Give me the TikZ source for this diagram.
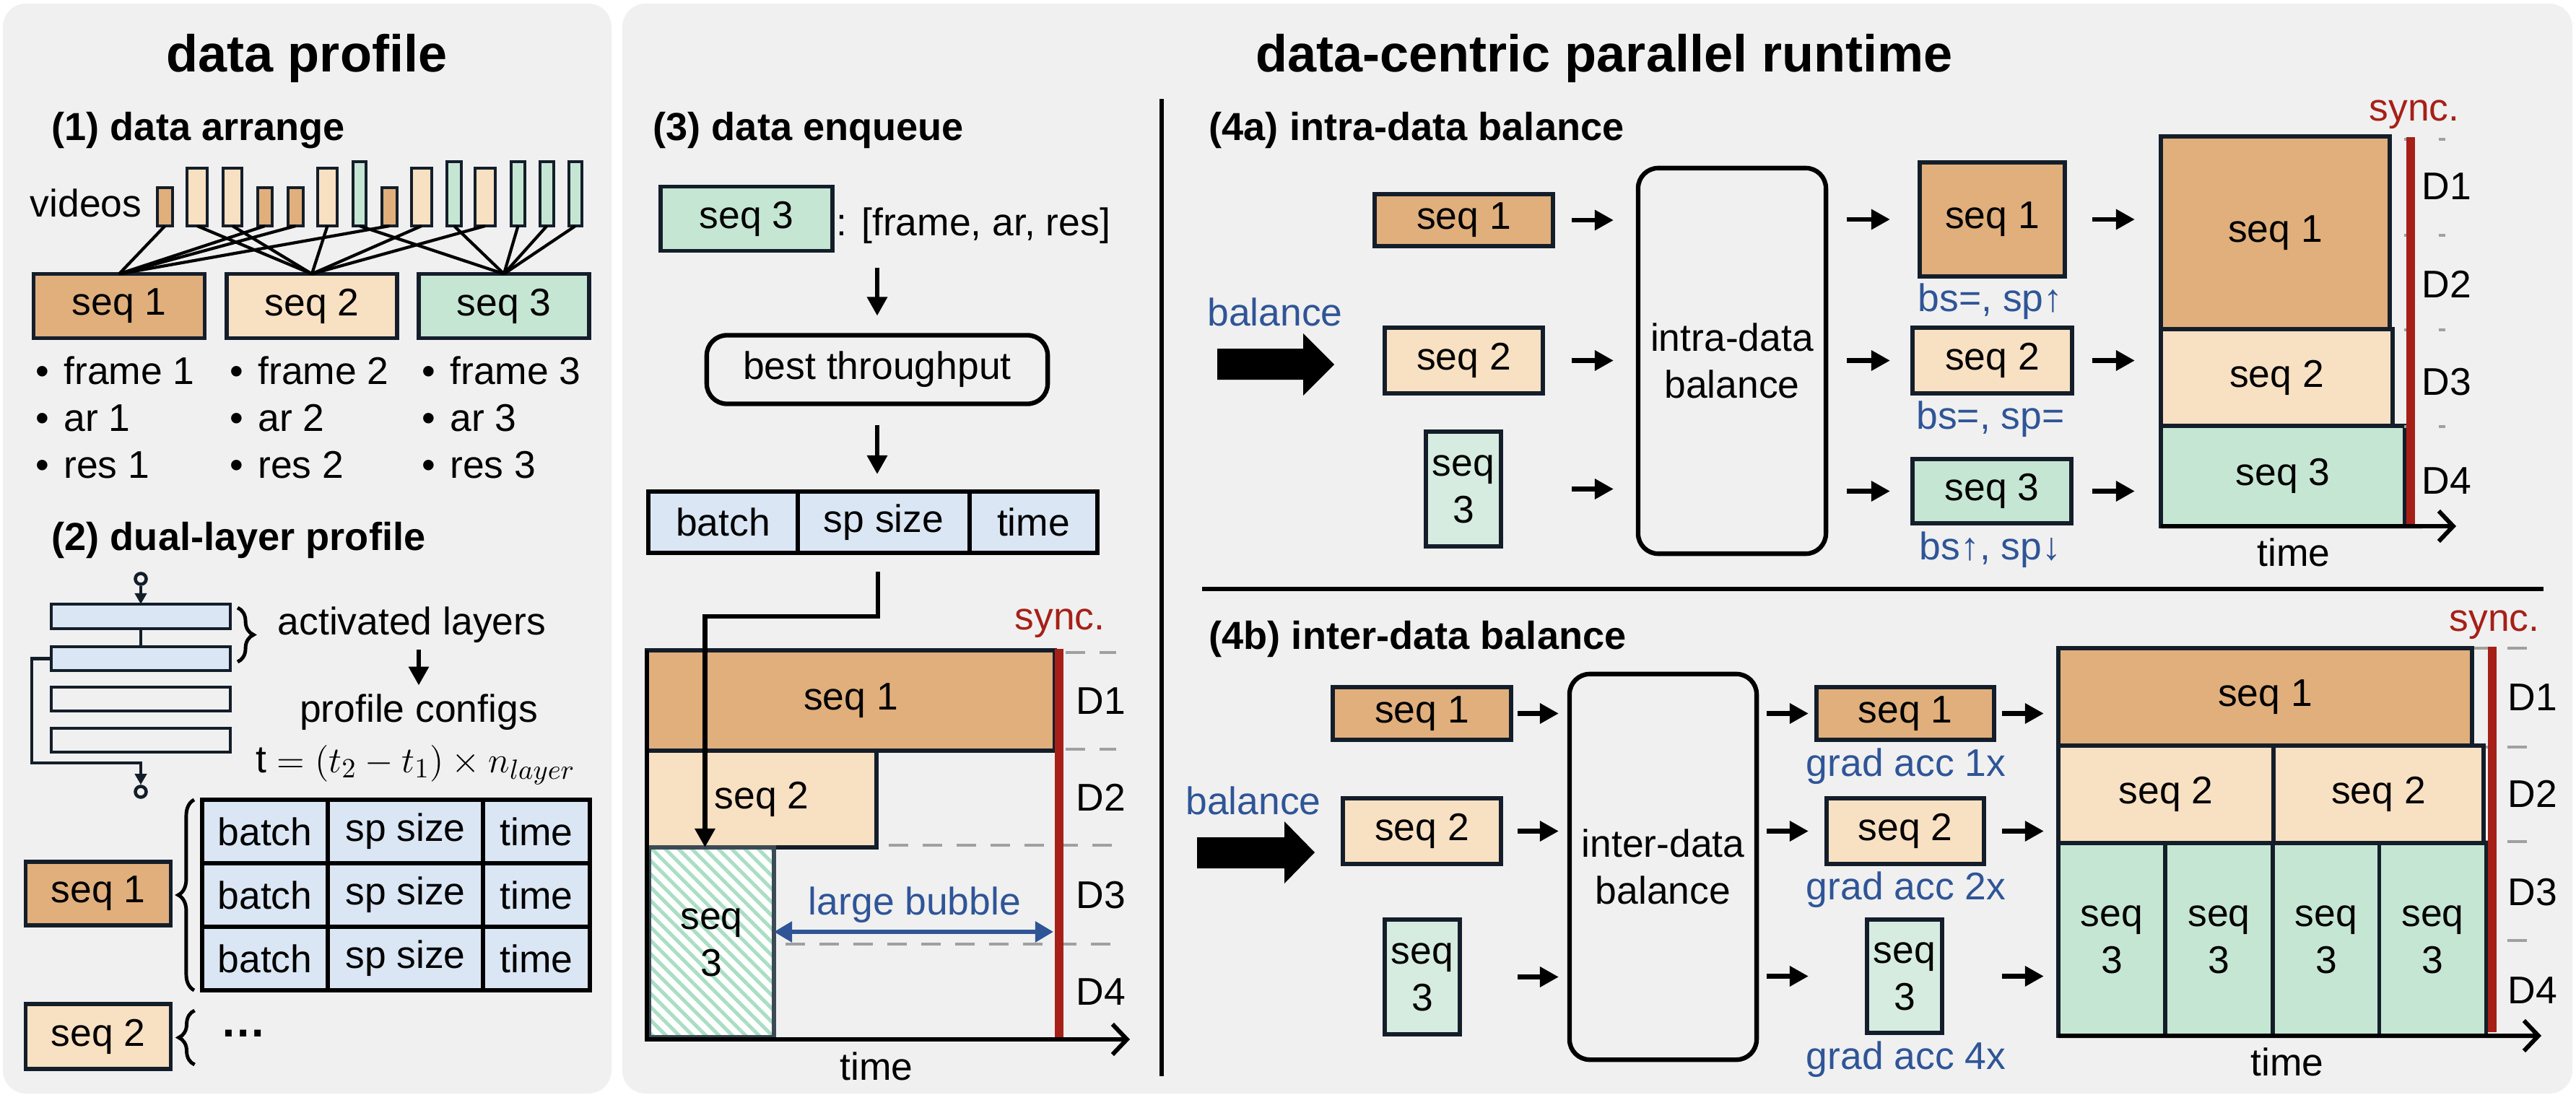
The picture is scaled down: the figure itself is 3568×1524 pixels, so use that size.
\documentclass[tikz,border=0pt]{standalone}
\usepackage{fontspec}
\setmainfont{Liberation Sans}
\usetikzlibrary{arrows.meta, positioning, patterns.meta, decorations.pathreplacing}

\definecolor{panelGray}{RGB}{240,240,240}
\definecolor{orangeDark}{RGB}{224,175,124}
\definecolor{orangeLight}{RGB}{248,224,194}
\definecolor{mintGreen}{RGB}{198,230,212}
\definecolor{mintLight}{RGB}{214,236,224}
\definecolor{cellBlue}{RGB}{218,230,244}
\definecolor{edgeNavy}{RGB}{20,30,42}
\definecolor{hatchEdge}{RGB}{60,74,85}
\definecolor{hatchGreen}{RGB}{170,222,196}
\definecolor{syncRed}{RGB}{166,32,24}
\definecolor{noteBlue}{RGB}{47,85,151}
\definecolor{gapGray}{RGB}{160,160,160}

\begin{document}
\begin{tikzpicture}[x=0.01cm, y=-0.01cm]
  \tikzstyle{panel} = [fill=panelGray, rounded corners=0.32cm]
  \tikzstyle{txt} = [inner sep=0pt, font=\fontsize{15.2}{18.5}\selectfont]
  \tikzstyle{titleText} = [inner sep=0pt, anchor=base, font=\fontsize{20.5}{24}\selectfont\bfseries]
  \tikzstyle{sectText} = [inner sep=0pt, anchor=base west, font=\fontsize{15.4}{18}\selectfont\bfseries]
  \tikzstyle{box} = [txt, draw=edgeNavy, line width=1.6pt, outer sep=0pt, align=center]
  \tikzstyle{seqOne} = [box, fill=orangeDark]
  \tikzstyle{seqTwo} = [box, fill=orangeLight]
  \tikzstyle{seqThree} = [box, fill=mintGreen]
  \tikzstyle{seqThreeL} = [box, fill=mintLight]
  \tikzstyle{cell} = [box, draw=black, fill=cellBlue, minimum height=0.88cm]
  \tikzstyle{roundBox} = [box, draw=black, line width=1.8pt, rounded corners=0.28cm]
  \tikzstyle{flowEdge} = [black, line width=1.8pt, -{Triangle[length=0.26cm, width=0.27cm]}]
  \tikzstyle{thinEdge} = [edgeNavy, line width=1.3pt]
  \tikzstyle{tapEdge} = [thinEdge, -{Triangle[length=0.15cm, width=0.16cm]}]
  \tikzstyle{axisEdge} = [black, line width=1.7pt, -{Straight Barb[length=0.2cm, width=0.42cm]}]
  \tikzstyle{syncLine} = [syncRed, line width=0.12cm]
  \tikzstyle{gapLine} = [gapGray, line width=1.4pt, dash pattern=on 0.27cm off 0.2cm]
  \tikzstyle{curly} = [decorate, decoration={brace, amplitude=0.22cm}, line width=1.4pt]
  \tikzstyle{noteText} = [txt, text=noteBlue, anchor=base]
  \tikzstyle{redText} = [txt, text=syncRed, anchor=base]
  \tikzstyle{dLabel} = [txt, anchor=west]
  \tikzstyle{bubbleEdge} = [noteBlue, line width=1.6pt, {Triangle[length=0.25cm, width=0.28cm]}-{Triangle[length=0.25cm, width=0.28cm]}]

  \useasboundingbox (0,0) rectangle (3568,1524);
  \fill[panel] (4,5) rectangle (847,1515);
  \fill[panel] (862,5) rectangle (3563,1515);

  % data profile
  \node[titleText] (dataProfile) at (425,99) {data profile};
  \node[sectText] (arrangeHead) at (71,194) {(1) data arrange};
  \node[txt, anchor=base west] (videos) at (41,300) {videos};

  \node[seqOne, minimum width=2.37cm, minimum height=0.89cm] (sq1) at (165,424) {seq 1};
  \node[seqTwo, minimum width=2.36cm, minimum height=0.89cm] (sq2) at (432,424) {seq 2};
  \node[seqThree, minimum width=2.36cm, minimum height=0.89cm] (sq3) at (698,424) {seq 3};

  \foreach \xl/\w/\t/\f/\g [count=\i] in {218/21/260/orangeDark/1, 259/28/233/orangeLight/2,
      309/26/233/orangeLight/2, 357/20/260/orangeDark/1, 399/21/260/orangeDark/1,
      440/27/233/orangeLight/2, 489/18/224/mintGreen/3, 529/21/260/orangeDark/1,
      570/28/233/orangeLight/2, 619/20/224/mintGreen/3, 658/28/233/orangeLight/2,
      708/19/224/mintGreen/3, 748/19/224/mintGreen/3, 788/18/224/mintGreen/3} {
    \node[box, line width=1.3pt, fill=\f, anchor=south west, minimum width=\w*0.01cm,
      minimum height={(313-\t)*0.01cm}] (vid\i) at (\xl,313) {};
    \draw[black, line width=1.2pt] (vid\i.south) -- (sq\g.north);
  }

  \foreach \k/\xx in {1/49, 2/318, 3/584} {
    \node[txt, anchor=base west] (fr\k) at (\xx,532) {\textbullet\hspace{0.2cm}frame \k};
    \node[txt, anchor=base west] (ar\k) at (\xx,597) {\textbullet\hspace{0.2cm}ar \k};
    \node[txt, anchor=base west] (rs\k) at (\xx,662) {\textbullet\hspace{0.2cm}res \k};
  }

  \node[sectText] (profileHead) at (71,762) {(2) dual-layer profile};
  \node[box, line width=1.3pt, fill=cellBlue, minimum width=2.48cm, minimum height=0.34cm] (ly1) at (195,854) {};
  \node[box, line width=1.3pt, fill=cellBlue, minimum width=2.48cm, minimum height=0.33cm] (ly2) at (195,912.5) {};
  \node[box, line width=1.3pt, minimum width=2.48cm, minimum height=0.33cm] (ly3) at (195,968.5) {};
  \node[box, line width=1.3pt, minimum width=2.48cm, minimum height=0.33cm] (ly4) at (195,1025.5) {};
  \node[circle, draw=edgeNavy, line width=1.3pt, minimum size=0.15cm, inner sep=0pt] (inTap) at (195,802) {};
  \node[circle, draw=edgeNavy, line width=1.3pt, minimum size=0.15cm, inner sep=0pt] (outTap) at (195,1097) {};
  \coordinate (skipTurn) at (195,1057);
  \draw[tapEdge] (inTap) -- (ly1);
  \draw[thinEdge] (ly1) -- (ly2);
  \draw[tapEdge] (ly2.west) -- ++(-27,0) |- (skipTurn) -- (outTap);
  \draw[curly] ([xshift=0.1cm, yshift=-0.05cm]ly1.north east) -- ([xshift=0.1cm, yshift=0.12cm]ly2.south east);

  \node[txt, anchor=base west] (actLayers) at (384,879) {activated layers};
  \node[txt, anchor=base] (profConf) at (580,1000) {profile configs};
  \draw[flowEdge, shorten <=0.09cm, shorten >=0.11cm] (actLayers.south -| profConf.north) -- (profConf.north);
  \node[txt, anchor=base west] (tCost) at (354,1070) {$\mathrm{t}=(t_2-t_1)\times n_{layer}$};

  \foreach \r/\yc in {1/1152, 2/1240, 3/1328} {
    \node[cell, minimum width=1.74cm] (tbA\r) at (367,\yc) {batch};
    \node[cell, minimum width=2.15cm] (tbB\r) at (561.5,\yc) {sp size};
    \node[cell, minimum width=1.48cm] (tbC\r) at (743,\yc) {time};
  }
  \node[seqOne, minimum width=2.01cm, minimum height=0.88cm] (pq1) at (136,1238) {seq 1};
  \node[seqTwo, minimum width=2.01cm, minimum height=0.9cm] (pq2) at (136,1436) {seq 2};
  \draw[curly] ([xshift=-0.11cm]tbA3.south west) -- ([xshift=-0.11cm]tbA1.north west);
  \draw[curly] ([xshift=0.33cm, yshift=0.06cm]pq2.south east) -- ([xshift=0.33cm, yshift=-0.09cm]pq2.north east);
  \node[txt, anchor=west] (more) at (305,1432) {\bfseries\fontsize{18}{20}\selectfont …};

  % data-centric parallel runtime
  \node[titleText] (runtimeTitle) at (2222,99) {data-centric parallel runtime};
  \node[sectText] (enqHead) at (904,194) {(3) data enqueue};
  \node[seqThree, minimum width=2.38cm, minimum height=0.89cm] (eq3) at (1034,303) {seq 3};
  \node[txt, anchor=base west] (eqAttr) at (1158,326) {: [frame, ar, res]};
  \node[roundBox, minimum width=4.72cm, minimum height=0.95cm] (bestTp) at (1215,512) {best throughput};
  \draw[flowEdge, shorten <=0.23cm, shorten >=0.27cm] (bestTp.north |- eq3.south) -- (bestTp.north);
  \node[cell, minimum width=2.07cm, minimum height=0.85cm] (enqA) at (1001.5,723.5) {batch};
  \node[cell, minimum width=2.38cm, minimum height=0.85cm] (enqB) at (1224,723.5) {sp size};
  \node[cell, minimum width=1.77cm, minimum height=0.85cm] (enqC) at (1431.5,723.5) {time};
  \draw[flowEdge, shorten <=0.29cm, shorten >=0.24cm] (bestTp.south) -- (bestTp.south |- enqB.north);

  \draw[gapLine] (1476,904) -- (1546,904);
  \draw[gapLine] (1476,1038) -- (1546,1038);
  \draw[gapLine] (1231,1171) -- (1546,1171);
  \draw[gapLine] (1088,1308) -- (1546,1308);
  \node[seqOne, minimum width=5.65cm, minimum height=1.39cm] (ch1) at (1178.5,970.5) {seq 1};
  \node[seqTwo, minimum width=3.18cm, minimum height=1.34cm] (ch2) at (1055,1107) {seq 2};
  \node[box, draw=hatchEdge, preaction={fill=white}, pattern={Lines[angle=-45, distance=0.13cm, line width=0.05cm]},
    pattern color=hatchGreen, minimum width=1.73cm, minimum height=2.63cm] (ch3) at (985.5,1305.5) {seq\\3};
  \coordinate (timeEnd3) at (1565,1440);
  \draw[axisEdge] (ch1.north west) |- (timeEnd3);
  \draw[syncLine] (1467,899) -- (1467,1437);
  \node[redText] (syncQ) at (1468,872) {sync.};
  \foreach \k/\yy in {1/971, 2/1105, 3/1240, 4/1374}
    \node[dLabel] (dq\k) at (1490,\yy) {D\k};
  \node[noteText] (bubble) at (1267,1267) {large bubble};
  \coordinate (bubbleEnd) at (1459,1291);
  \draw[bubbleEdge] (ch3.east |- bubbleEnd) -- (bubbleEnd);
  \node[txt, anchor=base] (timeQ) at (1214,1496) {time};
  \coordinate (rowDrop) at (1216,792);
  \draw[flowEdge] (rowDrop) -- ++(0,62) -| ([xshift=-0.09cm]ch3.north);

  \draw[line width=1.8pt] (1609,137) -- (1609,1491);
  \draw[line width=1.8pt] (1665,816) -- (3523,816);

  % intra-data balance
  \node[sectText] (intraHead) at (1674,194) {(4a) intra-data balance};
  \node[noteText] (balA) at (1766,451) {balance};
  \fill (1686,483) -- (1805,483) -- (1805,462) -- (1848,505) -- (1805,548) -- (1805,526) -- (1686,526) -- cycle;
  \node[seqOne, minimum width=2.47cm, minimum height=0.72cm] (ia1) at (2027.5,305) {seq 1};
  \node[seqTwo, minimum width=2.19cm, minimum height=0.91cm] (ia2) at (2027.5,499.5) {seq 2};
  \node[seqThreeL, minimum width=1.04cm, minimum height=1.59cm] (ia3) at (2027,677.5) {seq\\3};
  \node[roundBox, minimum width=2.6cm, minimum height=5.34cm] (intraBox) at (2399,500) {intra-data\\balance};
  \node[seqOne, minimum width=2.01cm, minimum height=1.58cm] (oa1) at (2759.5,304) {seq 1};
  \node[seqTwo, minimum width=2.21cm, minimum height=0.91cm] (oa2) at (2759.5,499.5) {seq 2};
  \node[seqThree, minimum width=2.2cm, minimum height=0.89cm] (oa3) at (2759,680.5) {seq 3};
  \node[noteText] (noteA1) at (2757,431) {bs=, sp↑};
  \node[noteText] (noteA2) at (2757,594) {bs=, sp=};
  \node[noteText] (noteA3) at (2757,775) {bs↑, sp↓};
  \node[seqOne, minimum width=3.17cm, minimum height=2.67cm] (pa1) at (3151.5,322.5) {seq 1};
  \node[seqTwo, minimum width=3.21cm, minimum height=1.34cm] (pa2) at (3153.5,523) {seq 2};
  \node[seqThree, minimum width=3.38cm, minimum height=1.39cm] (pa3) at (3162,659.5) {seq 3};
  \foreach \k/\sa/\sb in {1/0.26/0.41, 2/0.4/0.31, 3/0.98/0.31} {
    \draw[flowEdge, shorten <=\sa cm, shorten >=0.34cm] (ia\k.east) -- (intraBox.west |- ia\k);
    \draw[flowEdge, shorten <=0.29cm, shorten >=\sb cm] (intraBox.east |- oa\k) -- (oa\k.west);
  }
  \foreach \k/\sa in {1/0.38, 2/0.28, 3/0.29}
    \draw[flowEdge, shorten <=\sa cm, shorten >=0.36cm] (oa\k.east) -- (pa1.west |- oa\k);
  \foreach \yy in {193, 326, 457, 591}
    \draw[gapLine, dash pattern=on 0.09cm off 0.39cm] (3330,\yy) -- (3390,\yy);
  \draw[syncLine] (3339,190) -- (3339,727);
  \node[redText] (syncA) at (3344,167) {sync.};
  \foreach \k/\yy in {1/258, 2/394, 3/529, 4/666}
    \node[dLabel] (da\k) at (3354,\yy) {D\k};
  \coordinate (timeEndA) at (3402,729);
  \draw[axisEdge] (pa3.south west) -- (timeEndA);
  \node[txt, anchor=base] (timeA) at (3177,784) {time};

  % inter-data balance
  \node[sectText] (interHead) at (1674,899) {(4b) inter-data balance};
  \node[noteText] (balB) at (1736,1128) {balance};
  \fill (1658,1160) -- (1779,1160) -- (1779,1138) -- (1821,1181) -- (1779,1224) -- (1779,1203) -- (1658,1203) -- cycle;
  \node[seqOne, minimum width=2.47cm, minimum height=0.73cm] (ib1) at (1969.5,988.5) {seq 1};
  \node[seqTwo, minimum width=2.19cm, minimum height=0.91cm] (ib2) at (1969.5,1151.5) {seq 2};
  \node[seqThreeL, minimum width=1.04cm, minimum height=1.59cm] (ib3) at (1970,1353.5) {seq\\3};
  \node[roundBox, minimum width=2.59cm, minimum height=5.34cm] (interBox) at (2303.5,1201) {inter-data\\balance};
  \node[seqOne, minimum width=2.46cm, minimum height=0.73cm] (ob1) at (2639,988.5) {seq 1};
  \node[seqTwo, minimum width=2.18cm, minimum height=0.91cm] (ob2) at (2639,1151.5) {seq 2};
  \node[seqThreeL, minimum width=1.04cm, minimum height=1.57cm] (ob3) at (2638,1352.5) {seq\\3};
  \node[noteText] (noteB1) at (2640,1075) {grad acc 1x};
  \node[noteText] (noteB2) at (2640,1246) {grad acc 2x};
  \node[noteText] (noteB3) at (2640,1481) {grad acc 4x};
  \foreach \yy in {898, 1035, 1166, 1303}
    \draw[gapLine] (3426,\yy) -- (3500,\yy);
  \node[seqOne, minimum width=5.73cm, minimum height=1.35cm] (kb1) at (3137.5,965.5) {seq 1};
  \node[seqTwo, minimum width=2.98cm, minimum height=1.35cm] (kb2a) at (3000,1100.5) {seq 2};
  \node[seqTwo, minimum width=2.91cm, minimum height=1.35cm] (kb2b) at (3294.5,1100.5) {seq 2};
  \foreach \xx [count=\k] in {2925, 3073.5, 3222, 3369.5}
    \node[seqThree, minimum width=1.48cm, minimum height=2.67cm] (kb3\k) at (\xx,1301.5) {seq\\3};
  \foreach \k/\sa/\sb/\sc in {1/0.09/0.11/0.11, 2/0.23/0.25/0.25, 3/0.8/0.81/0.83} {
    \draw[flowEdge, shorten <=\sa cm, shorten >=0.15cm] (ib\k.east) -- (interBox.west |- ib\k);
    \draw[flowEdge, shorten <=0.14cm, shorten >=\sb cm] (interBox.east |- ob\k) -- (ob\k.west);
    \draw[flowEdge, shorten <=\sc cm, shorten >=0.2cm] (ob\k.east) -- (kb1.west |- ob\k);
  }
  \draw[syncLine] (3452,896) -- (3452,1430);
  \node[redText] (syncB) at (3455,874) {sync.};
  \foreach \k/\yy in {1/966, 2/1100, 3/1236, 4/1372}
    \node[dLabel] (db\k) at (3473,\yy) {D\k};
  \coordinate (timeEndB) at (3520,1435);
  \draw[axisEdge] (kb31.south west) -- (timeEndB);
  \node[txt, anchor=base] (timeB) at (3168,1490) {time};
\end{tikzpicture}
\end{document}
